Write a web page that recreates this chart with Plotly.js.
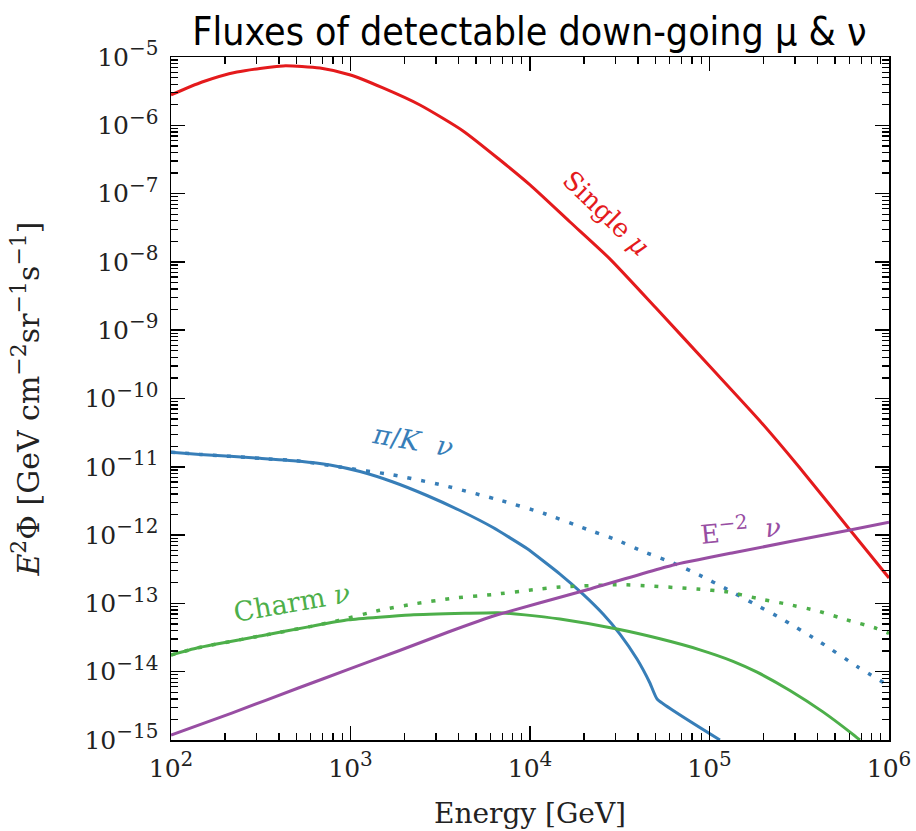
<!DOCTYPE html>
<html>
<head>
<meta charset="utf-8">
<script src="https://cdn.plot.ly/plotly-3.0.1.min.js"></script>
<style>
  html, body { margin: 0; padding: 0; background: #ffffff; }
  #chart { width: 916px; height: 831px; }
</style>
</head>
<body>
<div id="chart"></div>
<script>
// ---- Data (Energy in GeV, E^2 Phi in GeV cm^-2 sr^-1 s^-1) ----
const muonE   = [100, 149, 233, 421, 676, 1000, 1517, 2438, 4236, 6808, 10000, 16710, 27930, 50350, 100000, 191000, 315500, 606700, 1000000];
const muonF   = [2.78e-6, 4.3e-6, 6.03e-6, 7.41e-6, 6.9e-6, 5.45e-6, 3.52e-6, 1.98e-6, 8.26e-7, 3.10e-7, 1.34e-7, 3.84e-8, 1.10e-8, 2.11e-9, 2.99e-10, 4.69e-11, 9.93e-12, 1.19e-12, 2.36e-13];

const piKE    = [100, 145, 313, 524, 769, 1130, 1726, 2667, 4074, 6223, 9616, 14690, 19720, 25530, 31700, 39450, 46560, 51050, 114300];
const piKF    = [1.63e-11, 1.52e-11, 1.33e-11, 1.21e-11, 1.06e-11, 8.53e-12, 5.99e-12, 3.80e-12, 2.29e-12, 1.29e-12, 6.36e-13, 2.69e-13, 1.37e-13, 7.0e-14, 3.56e-14, 1.53e-14, 6.84e-15, 3.98e-15, 1.0e-15];

const piKAllE = [100, 145, 313, 524, 871, 1726, 3273, 6808, 11890, 20700, 30410, 42660, 61660, 88510, 124700, 175400, 251200, 413000, 671400, 1000000];
const piKAllF = [1.63e-11, 1.52e-11, 1.33e-11, 1.21e-11, 9.93e-12, 7.6e-12, 5.37e-12, 3.24e-12, 2.09e-12, 1.22e-12, 8.5e-13, 5.75e-13, 3.98e-13, 2.57e-13, 1.62e-13, 1.0e-13, 6.0e-14, 2.72e-14, 1.17e-14, 6.2e-15];

const charmE    = [100, 141, 325, 593, 971, 2155, 4345, 6637, 9376, 14690, 30550, 52970, 88510, 135200, 184100, 280500, 428500, 629500, 688700];
const charmF    = [1.75e-14, 2.24e-14, 3.39e-14, 4.57e-14, 5.75e-14, 6.76e-14, 7.16e-14, 7.31e-14, 6.79e-14, 5.89e-14, 4.21e-14, 3.03e-14, 2.09e-14, 1.42e-14, 9.84e-15, 5.32e-15, 2.58e-15, 1.21e-15, 1.0e-15];

const charmAllE = [100, 141, 325, 593, 850, 1459, 2228, 3715, 6223, 10400, 14690, 31620, 46770, 85110, 124700, 183200, 269200, 395400, 580800, 851100, 1000000];
const charmAllF = [1.75e-14, 2.24e-14, 3.39e-14, 4.57e-14, 5.6e-14, 7.94e-14, 9.77e-14, 1.19e-13, 1.35e-13, 1.58e-13, 1.74e-13, 1.88e-13, 1.80e-13, 1.62e-13, 1.48e-13, 1.19e-13, 9.77e-14, 7.83e-14, 5.75e-14, 4.32e-14, 3.63e-14];

const e2E = [100, 218, 512, 973, 1845, 3508, 6653, 19010, 62810, 135800, 606700, 1000000];
const e2F = [1.18e-15, 2.48e-15, 5.77e-15, 1.08e-14, 2.01e-14, 3.81e-14, 6.87e-14, 1.48e-13, 3.65e-13, 5.52e-13, 1.19e-12, 1.54e-12];

const seriesNames = ['Single μ', 'π/K ν', 'π/K ν (all)', 'Charm ν', 'Charm ν (all)', 'E⁻² ν'];

// Axis tick labels
const xTickVals = [1e2, 1e3, 1e4, 1e5, 1e6];
const xTickText = ['2', '3', '4', '5', '6'];
const yTickVals = [1e-15, 1e-14, 1e-13, 1e-12, 1e-11, 1e-10, 1e-9, 1e-8, 1e-7, 1e-6, 1e-5];
const yTickText = ['−15', '−14', '−13', '−12', '−11', '−10', '−9', '−8', '−7', '−6', '−5'];

// ---- Styles ----
const RED = '#e41a1c', BLUE = '#377eb8', GREEN = '#4daf4a', PURPLE = '#984ea3';
const SERIF = "'DejaVu Serif', 'Liberation Serif', serif";
const DOT = '4px,10px';
const SUP = (s, px) => '<sup><span style="font-size:' + px + 'px">' + s + '</span></sup>';

function minorVals(lo, hi) {
  const v = [];
  for (let d = lo; d < hi; d++) for (let k = 2; k <= 9; k++) v.push(k * Math.pow(10, d));
  return v;
}

const traces = [
  {x: muonE, y: muonF, name: seriesNames[0], mode: 'lines', line: {color: RED, width: 3, shape: 'spline', smoothing: 0.6}},
  {x: piKAllE, y: piKAllF, name: seriesNames[2], mode: 'lines', line: {color: BLUE, width: 3.5, dash: DOT, shape: 'spline', smoothing: 0.5}},
  {x: piKE, y: piKF, name: seriesNames[1], mode: 'lines', line: {color: BLUE, width: 3, shape: 'spline', smoothing: 0.4}},
  {x: charmAllE, y: charmAllF, name: seriesNames[4], mode: 'lines', line: {color: GREEN, width: 3.5, dash: DOT, shape: 'spline', smoothing: 0.5}},
  {x: charmE, y: charmF, name: seriesNames[3], mode: 'lines', line: {color: GREEN, width: 3, shape: 'spline', smoothing: 0.5}},
  {x: e2E, y: e2F, name: seriesNames[5], mode: 'lines', line: {color: PURPLE, width: 3, shape: 'spline', smoothing: 0.3}}
];

const axisCommon = {
  type: 'log',
  showgrid: false,
  zeroline: false,
  showline: true,
  linecolor: '#000',
  linewidth: 1.5,
  mirror: 'ticks',
  ticks: 'inside',
  ticklen: 14,
  tickwidth: 1.5,
  tickcolor: '#000',
  tickmode: 'array',
  tickfont: {family: SERIF, size: 25, color: '#222'}
};

const layout = {
  width: 916,
  height: 831,
  margin: {l: 171, r: 27, t: 57, b: 91},
  paper_bgcolor: '#ffffff',
  plot_bgcolor: '#ffffff',
  showlegend: false,
  title: {
    text: 'Fluxes of detectable down-going μ & ν',
    font: {family: "'Ubuntu Condensed', 'DejaVu Sans Condensed', 'Liberation Sans Narrow', 'Roboto', sans-serif", size: 39, color: '#000'},
    x: 0.578, xanchor: 'center', xref: 'container',
    y: 0.979, yanchor: 'top', yref: 'container'
  },
  xaxis: Object.assign({}, axisCommon, {
    range: [2, 6],
    tickvals: xTickVals,
    ticktext: xTickText.map(t => '10' + SUP(t, 20)),
    ticklabelstandoff: 5,
    minor: {tickmode: 'array', tickvals: minorVals(2, 6), ticks: 'inside', ticklen: 7, tickwidth: 1.3, tickcolor: '#000', showgrid: false},
    title: {text: 'Energy [GeV]', font: {family: SERIF, size: 28, color: '#222'}, standoff: 22}
  }),
  yaxis: Object.assign({}, axisCommon, {
    range: [-15, -5],
    tickvals: yTickVals,
    ticktext: yTickText.map(t => '10' + SUP(t, 20)),
    ticklabelstandoff: 6,
    minor: {tickmode: 'array', tickvals: minorVals(-15, -5), ticks: 'inside', ticklen: 7, tickwidth: 1.3, tickcolor: '#000', showgrid: false},
    title: {text: '<i>E</i>' + SUP('2', 22) + 'Φ [GeV cm' + SUP('−2', 22) + 'sr' + SUP('−1', 22) + 's' + SUP('−1', 22) + ']\u00a0\u00a0', font: {family: SERIF, size: 30, color: '#222'}, standoff: 36}
  }),
  annotations: [
    {x: 4.423, y: -7.284, xref: 'x', yref: 'y', text: 'Single <i>μ</i>', showarrow: false, textangle: 44, font: {family: SERIF, size: 26, color: RED}},
    {x: 3.35, y: -10.61, xref: 'x', yref: 'y', text: '<i>π</i>/<i>K</i>  <i>ν</i>', showarrow: false, textangle: 10, font: {family: SERIF, size: 27, color: BLUE}},
    {x: 2.674, y: -12.994, xref: 'x', yref: 'y', text: 'Charm <i>ν</i>', showarrow: false, textangle: -10, font: {family: SERIF, size: 27, color: GREEN}},
    {x: 5.17, y: -11.9, xref: 'x', yref: 'y', text: 'E' + SUP('−2', 20) + '  <i>ν</i>', showarrow: false, textangle: -6, font: {family: SERIF, size: 26, color: PURPLE}}
  ]
};

Plotly.newPlot('chart', traces, layout, {displayModeBar: false, staticPlot: true});
</script>
</body>
</html>
